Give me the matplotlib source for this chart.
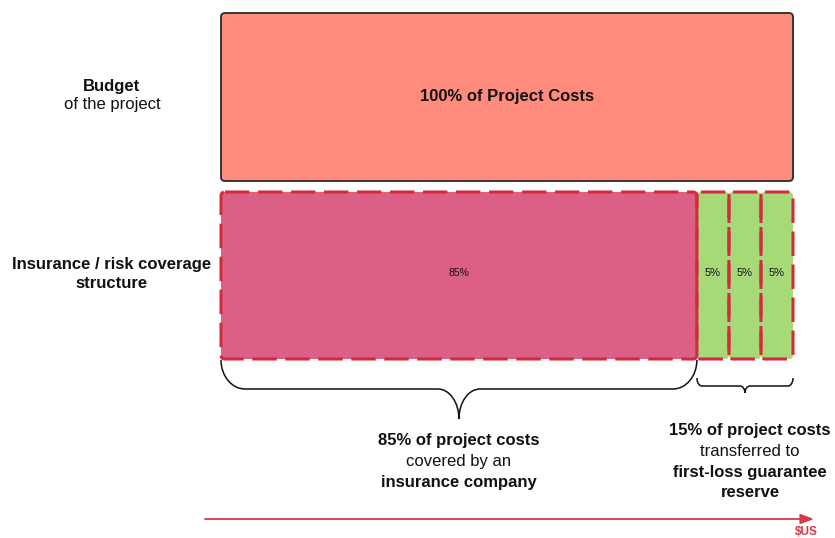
import matplotlib
matplotlib.use("Agg")
import matplotlib.pyplot as plt
from matplotlib.patches import FancyBboxPatch, PathPatch
from matplotlib.path import Path
import numpy as np

plt.rcParams["font.family"] = ["Liberation Sans", "DejaVu Sans"]

# data (x axis = share of project costs, %)
budget_share = 100
budget_label = "100% of Project Costs"
coverage_widths = [83.2, 5.6, 5.6, 5.6]      # drawn widths
coverage_labels = ["85%", "5%", "5%", "5%"]
coverage_colors = ["#DC5F86", "#A6DA78", "#A6DA78", "#A6DA78"]
brace_groups = [(0, 1), (1, 4)]              # segments spanned by each brace

PX = 5.72          # pixels per percent
X0 = 221           # pixel position of 0 %
RED = "#D42A3E"
INK = "#111111"
FS = 12

fig = plt.figure(figsize=(8.35, 5.38), dpi=100)
ax = fig.add_axes([0, 0, 1, 1])
ax.set_xlim(-X0 / PX, (835 - X0) / PX)
ax.set_ylim(538, 0)
ax.axis("off")

def rbox(x, y, w, h, **kw):
    p = FancyBboxPatch((x, y), w, h, boxstyle="round,pad=0,rounding_size=0.7",
                       mutation_aspect=PX, **kw)
    ax.add_patch(p)
    return p

# budget bar
rbox(0, 13, budget_share, 168, facecolor="#FF8B7C", edgecolor="#2a2a2a", lw=1.3)
ax.text(budget_share / 2, 96, budget_label, ha="center", va="center",
        fontsize=FS, fontweight="bold", color=INK)

# coverage structure
left = np.concatenate([[0], np.cumsum(coverage_widths)[:-1]])
for l, w, c in zip(left, coverage_widths, coverage_colors):
    rbox(l, 192, w, 167, facecolor=c, edgecolor="none")
for l, w, lab in zip(left, coverage_widths, coverage_labels):
    rbox(l, 192, w, 167, facecolor="none", edgecolor=RED, lw=2.2,
         linestyle=(0, (8, 2.8)))
    ax.text(l + w / 2, 273, lab, ha="center", va="center",
            fontsize=7.5 if w > 50 else 8, color=INK)

# row labels
lx = (112 - X0) / PX
ax.text(lx, 86, "Budget", ha="center", va="center", fontsize=FS, fontweight="bold", color=INK)
ax.text(lx, 105, "of the project", ha="center", va="center", fontsize=FS, color=INK)
ax.text(lx, 264, "Insurance / risk coverage", ha="center", va="center",
        fontsize=FS, fontweight="bold", color=INK)
ax.text(lx, 284, "structure", ha="center", va="center", fontsize=FS,
        fontweight="bold", color=INK)

def brace(xa, xb, ytop, yh, ytip, r_end, r_mid):
    k = 0.552
    xm = (xa + xb) / 2
    verts = [(xa, ytop),
             (xa, ytop + k * (yh - ytop)), (xa + (1 - k) * r_end, yh), (xa + r_end, yh),
             (xm - r_mid, yh),
             (xm - r_mid + k * r_mid, yh), (xm, ytip - k * (ytip - yh)), (xm, ytip),
             (xm, ytip - k * (ytip - yh)), (xm + r_mid - k * r_mid, yh), (xm + r_mid, yh),
             (xb - r_end, yh),
             (xb - (1 - k) * r_end, yh), (xb, ytop + k * (yh - ytop)), (xb, ytop)]
    codes = [Path.MOVETO, Path.CURVE4, Path.CURVE4, Path.CURVE4, Path.LINETO,
             Path.CURVE4, Path.CURVE4, Path.CURVE4,
             Path.CURVE4, Path.CURVE4, Path.CURVE4, Path.LINETO,
             Path.CURVE4, Path.CURVE4, Path.CURVE4]
    ax.add_patch(PathPatch(Path(verts, codes), facecolor="none", edgecolor=INK, lw=1.1))
    return xm

edges = np.concatenate([[0], np.cumsum(coverage_widths)])
g0, g1 = brace_groups
m1 = brace(edges[g0[0]], edges[g0[1]], 360, 389, 419, 24 / PX, 21 / PX)
m2 = brace(edges[g1[0]], edges[g1[1]], 378, 386, 393, 5 / PX, 5 / PX)

def stack(x, y0, lines, dy=20.5):
    for i, (txt, bold) in enumerate(lines):
        ax.text(x, y0 + i * dy, txt, ha="center", va="center", fontsize=FS,
                fontweight="bold" if bold else "normal", color=INK)

stack(m1, 441, [("85% of project costs", True), ("covered by an", False),
                ("insurance company", True)])
stack(m2 + 0.9, 431, [("15% of project costs", True), ("transferred to", False),
                      ("first-loss guarantee", True), ("reserve", True)])

# axis arrow
ax.annotate("", xy=((814 - X0) / PX, 519), xytext=((205 - X0) / PX, 519),
            arrowprops=dict(arrowstyle="-|>,head_length=0.8,head_width=0.3",
                            color="#D33A4A", lw=1.3, shrinkA=0, shrinkB=0))
ax.text((806 - X0) / PX, 532, "$US", ha="center", va="center", fontsize=8.5,
        fontweight="bold", color="#D33A4A")

fig.savefig("out.png", dpi=100, facecolor="white")
